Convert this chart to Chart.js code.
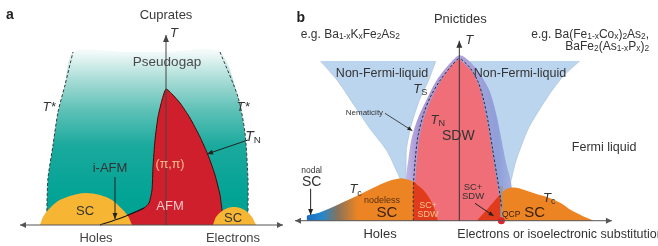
<!DOCTYPE html>
<html><head><meta charset="utf-8">
<script src="https://cdn.jsdelivr.net/npm/chart.js@4.4.1/dist/chart.umd.min.js"></script>
<style>
html,body{margin:0;padding:0;background:#fff;width:658px;height:246px;overflow:hidden}
#ca{position:absolute;left:0;top:0}
#cb{position:absolute;left:290px;top:0}
</style></head><body>
<canvas id="ca" width="290" height="246"></canvas>
<canvas id="cb" width="368" height="246"></canvas>
<script>
// ===== Panel a: cuprates (x = doping, 0 at T axis; y = temperature) =====
const pseudogapRegion = [[-120,0],[-119,23],[-118,47],[-113,80],[-108,113],[-101,140],[-93,173],[-40,173],[0,173],[54,173],[72,128],[79,92],[82,45],[82,15],[82,0]];
const tStarLeft = [[-119,14],[-119,23],[-118,47],[-113,80],[-108,113],[-101,140],[-93,173]];
const tStarRight = [[54,173],[72,128],[79,92],[82,45],[82,12]];
const afmRegion = [[-66,0],[-45,7],[-33,12],[-22,17],[-17,22],[-14,35],[-13,58],[-11,85],[-8,108],[-4,125],[0,136],[6,131],[14,122],[24,107],[34,88],[42,70],[49,50],[54,30],[56,15],[58,0]];
const iAfmLine = [[-66,0],[-45,7],[-33,12],[-22,17]];
const scDomeHolesA = [[-126,0],[-123,8],[-117,16],[-108,24],[-96,29],[-81,32],[-66,30],[-54,25],[-45,17],[-38,9],[-34,0]];
const scDomeElectronsA = [[47,0],[50,8],[56,14],[62,17],[68,18],[74,17],[80,14],[86,8],[90,0]];

// ===== Panel b: pnictides =====
const nflHoles = [[-142,165],[-124,144],[-106,117],[-92,96],[-74,72],[-63,49],[-59,41],[-55,42],[-54,74],[-49,99],[-41,124],[-31,146],[-24,165]];
const nflElectrons = [[6,165],[19,149],[29,124],[36,99],[41,74],[45,49],[48,34],[50,34],[53,42],[58,62],[71,96],[91,129],[106,149],[123,165]];
const nematicRegion = [[-55,0],[-55,39],[-52,64],[-49,84],[-43,104],[-34,124],[-24,144],[-12,160],[0,171],[9,166],[21,152],[31,134],[38,109],[43,84],[48,59],[53,39],[56,0]];
const sdwDome = [[-46,0],[-46,24],[-44,54],[-41,84],[-35,109],[-27,129],[-16,149],[-7,161],[0,167],[3,164],[13,154],[21,136],[26,114],[30,94],[33,74],[37,49],[41,24],[43,0]];
const tsLeft = [[-47,0],[-47,34],[-45,64],[-42,89],[-36,112],[-29,129],[-19,146],[-9,159],[0,169]];
const tsRight = [[2,167],[11,158],[19,144],[25,124],[30,99],[34,74],[38,49],[42,24],[43,14]];
const scDomeHolesB = [[-156,0],[-156,5],[-144,8],[-134,12],[-119,19],[-102,27],[-84,36],[-69,42],[-59,44],[-51,42],[-44,38],[-37,32],[-31,24],[-27,16],[-24,8],[-22,0]];
const scSdwHoles = [[-47,0],[-47,41],[-44,38],[-37,32],[-31,24],[-27,16],[-24,8],[-22,0]];
const scSdwElectrons = [[18,0],[26,9],[33,17],[39,24],[43,27],[43,0]];
const scDomeElectronsB = [[43,0],[43,28],[47,32],[52,34],[58,34],[66,32],[78,28],[91,24],[104,18],[114,11],[126,5],[138,0]];
const qcpLine = [[43,0],[43,36]];
const qcpPoint = [[43,0]];

const FA = '"Liberation Sans", Arial, sans-serif';

function pts(a){ return a.map(p => ({x:p[0], y:p[1]})); }
function ds(points, o){
  return Object.assign({type:'line', data:pts(points), pointRadius:0, borderWidth:0, borderColor:'rgba(0,0,0,0)', fill:false, tension:0.3}, o);
}

function drawRich(ctx, parts, x, y, size, color, align, family){
  if (typeof parts === 'string') parts = [[parts,'']];
  const fonts = parts.map(p => {
    const st = p[1] || '';
    const s = st.includes('S') ? size*0.7 : size;
    return (st.includes('I')?'italic ':'') + (st.includes('B')?'bold ':'') + s + 'px ' + family;
  });
  const widths = parts.map((p,i) => { ctx.font = fonts[i]; return ctx.measureText(p[0]).width; });
  const w = widths.reduce((a,b)=>a+b,0);
  let sx = align==='center' ? x - w/2 : (align==='right' ? x - w : x);
  ctx.fillStyle = color; ctx.textBaseline = 'middle'; ctx.textAlign = 'left';
  parts.forEach((p,i) => {
    ctx.font = fonts[i];
    const st = p[1]||'';
    const off = st.includes('S') ? size*(st.includes('L') ? 0.25 : 0.14) : 0;
    ctx.fillText(p[0], sx, y + off);
    sx += widths[i];
  });
}
function head(ctx, x1,y1,x2,y2, len, half){
  const a = Math.atan2(y2-y1, x2-x1);
  ctx.beginPath();
  ctx.moveTo(x2,y2);
  ctx.lineTo(x2 - len*Math.cos(a) + half*Math.sin(a), y2 - len*Math.sin(a) - half*Math.cos(a));
  ctx.lineTo(x2 - len*Math.cos(a) - half*Math.sin(a), y2 - len*Math.sin(a) + half*Math.cos(a));
  ctx.closePath(); ctx.fill();
}
function overlay(labels, arrows){
  return {id:'overlay', afterDatasetsDraw(chart){
    const ctx = chart.ctx, X = chart.scales.x, Y = chart.scales.y;
    const px = v => X.getPixelForValue(v), py = v => Y.getPixelForValue(v);
    ctx.save();
    arrows.forEach(a => {
      const x1=px(a.f[0]), y1=py(a.f[1]), x2=px(a.t[0]), y2=py(a.t[1]);
      ctx.strokeStyle = a.c; ctx.fillStyle = a.c; ctx.lineWidth = a.w;
      ctx.beginPath(); ctx.moveTo(x1,y1); ctx.lineTo(x2,y2); ctx.stroke();
      head(ctx, x1,y1,x2,y2, a.hl, a.hw);
      if (a.both) head(ctx, x2,y2,x1,y1, a.hl, a.hw);
    });
    labels.forEach(l => drawRich(ctx, l.t, px(l.x), py(l.y), l.s, l.c, l.a || 'center', l.f || FA));
    ctx.restore();
  }};
}
function baseOptions(xmin,xmax,ymin,ymax){
  return {responsive:false, animation:false, events:[], layout:{padding:0},
    plugins:{legend:{display:false}, tooltip:{enabled:false}},
    scales:{x:{type:'linear', min:xmin, max:xmax, display:false}, y:{type:'linear', min:ymin, max:ymax, display:false}}};
}

// ---------- Panel a ----------
const labelsA = [
  {x:-156,y:210,t:[['a','B']],s:14,c:'#222'},
  {x:0,y:210,t:'Cuprates',s:13,c:'#3a3a3a'},
  {x:8,y:192,t:[['T','I']],s:13,c:'#333'},
  {x:1,y:163,t:'Pseudogap',s:13.5,c:'#4a4a4a'},
  {x:-117,y:118,t:[['T*','I']],s:13,c:'#333'},
  {x:77,y:118,t:[['T*','I']],s:13,c:'#333'},
  {x:87,y:88,t:[['T','I'],['N','SL']],s:14,c:'#333'},
  {x:4,y:60,t:'(π,π)',s:12.5,c:'#f5c38e'},
  {x:4,y:19,t:'AFM',s:13,c:'#f6c6c6'},
  {x:-56,y:57,t:'i-AFM',s:13,c:'#333'},
  {x:-81,y:14,t:'SC',s:13,c:'#333'},
  {x:67,y:7,t:'SC',s:13,c:'#333'},
  {x:-70,y:-13,t:'Holes',s:13,c:'#444'},
  {x:67,y:-13,t:'Electrons',s:13,c:'#444'}
];
const arrowsA = [
  {f:[-146,0],t:[117,0],c:'#555',w:1,hl:6,hw:3,both:true},
  {f:[0,0],t:[0,190],c:'#444',w:1,hl:7,hw:3},
  {f:[-51,48],t:[-51,6],c:'#222',w:1,hl:6,hw:2.5},
  {f:[82,85],t:[41,71],c:'#222',w:1,hl:6,hw:2.5}
];
new Chart(document.getElementById('ca'), {
  data:{datasets:[
    ds(pseudogapRegion,{order:10, fill:'origin', tension:0.25, backgroundColor:(c)=>{
      const ch=c.chart; if(!ch.chartArea) return '#3bb5aa';
      const y=ch.scales.y; const g=ch.ctx.createLinearGradient(0,y.getPixelForValue(173),0,y.getPixelForValue(28));
      g.addColorStop(0,'#f2faf9'); g.addColorStop(0.2,'#a5dbd5'); g.addColorStop(0.4,'#5ec1b7'); g.addColorStop(0.65,'#1aa99d'); g.addColorStop(1,'#02a395'); return g;}}),
    ds(tStarLeft,{order:9, borderColor:'#3a3a3a', borderWidth:1, borderDash:[3,2], tension:0.25}),
    ds(tStarRight,{order:9, borderColor:'#3a3a3a', borderWidth:1, borderDash:[3,2], tension:0.25}),
    ds(afmRegion,{order:8, fill:'origin', tension:0.2, backgroundColor:'#cf1f2d', borderColor:'#3a0d0d', borderWidth:1}),
    ds(scDomeHolesA,{order:7, fill:'origin', backgroundColor:'#f6b532'}),
    ds(scDomeElectronsA,{order:7, fill:'origin', backgroundColor:'#f6b532'}),
    ds(iAfmLine,{order:6, borderColor:'#1a1a1a', borderWidth:1.2, tension:0.2})
  ]},
  options: baseOptions(-166,124,-21,225),
  plugins:[overlay(labelsA, arrowsA)]
});

// ---------- Panel b ----------
const labelsB = [
  {x:-162,y:209,t:[['b','B']],s:14,c:'#222'},
  {x:1,y:208,t:'Pnictides',s:13,c:'#333'},
  {x:-162,y:192,t:[['e.g. Ba',''],['1-x','S'],['K',''],['x','S'],['Fe',''],['2','S'],['As',''],['2','S']],s:12,c:'#333',a:'left'},
  {x:194,y:192,t:[['e.g. Ba(Fe',''],['1-x','S'],['Co',''],['x','S'],[')',''],['2','S'],['As',''],['2','S'],[',','']],s:12,c:'#333',a:'right'},
  {x:194,y:180,t:[['BaFe',''],['2','S'],['(As',''],['1-x','S'],['P',''],['x','S'],[')',''],['2','S']],s:12,c:'#333',a:'right'},
  {x:10,y:186,t:[['T','I']],s:13,c:'#333'},
  {x:-79,y:152,t:'Non-Fermi-liquid',s:12.5,c:'#333'},
  {x:62,y:152,t:'Non-Fermi-liquid',s:12.5,c:'#333'},
  {x:-40,y:136,t:[['T','I'],['S','SL']],s:13,c:'#333'},
  {x:-22,y:104,t:[['T','I'],['N','SL']],s:13,c:'#333'},
  {x:-1,y:87,t:'SDW',s:14,c:'#333'},
  {x:-97,y:112,t:'Nematicity',s:8,c:'#333'},
  {x:148,y:76,t:'Fermi liquid',s:12.5,c:'#333'},
  {x:-151,y:52,t:'nodal',s:8.5,c:'#333'},
  {x:-151,y:40,t:'SC',s:14,c:'#333'},
  {x:-106,y:32,t:[['T','I'],['c','SL']],s:13,c:'#333'},
  {x:-79,y:21,t:'nodeless',s:9,c:'#5a3010'},
  {x:-74,y:8,t:'SC',s:15,c:'#3a2010'},
  {x:-32,y:16,t:'SC+',s:9,c:'#f8c392'},
  {x:-32,y:6,t:'SDW',s:9,c:'#f8c392'},
  {x:14,y:34,t:'SC+',s:9.5,c:'#333'},
  {x:14,y:25,t:'SDW',s:9.5,c:'#333'},
  {x:53,y:6,t:'QCP',s:8.5,c:'#3a2010'},
  {x:77,y:8,t:'SC',s:15,c:'#3a2010'},
  {x:92,y:23,t:[['T','I'],['c','SL']],s:13,c:'#333'},
  {x:-81,y:-14,t:'Holes',s:13,c:'#333'},
  {x:-2,y:-14,t:'Electrons or isoelectronic substitution',s:12.5,c:'#333',a:'left'}
];
const arrowsB = [
  {f:[-168,0],t:[156,0],c:'#555',w:1,hl:6,hw:3,both:true},
  {f:[0,0],t:[0,186],c:'#333',w:1,hl:7,hw:3},
  {f:[-152,33],t:[-152,6],c:'#222',w:1,hl:6,hw:2.5},
  {f:[-76,111],t:[-48,93],c:'#222',w:0.8,hl:5,hw:2},
  {f:[16,18],t:[35,5],c:'#222',w:1,hl:5,hw:2.2}
];
new Chart(document.getElementById('cb'), {
  data:{datasets:[
    ds(nflHoles,{order:12, fill:{value:165}, tension:0.25, backgroundColor:'#bcd5ef', borderColor:'rgba(150,170,195,0.6)', borderWidth:0.7}),
    ds(nflElectrons,{order:12, fill:{value:165}, tension:0.25, backgroundColor:'#bcd5ef', borderColor:'rgba(150,170,195,0.6)', borderWidth:0.7}),
    ds(nematicRegion,{order:11, fill:'origin', tension:0.3, backgroundColor:(c)=>{
      const ch=c.chart; if(!ch.chartArea) return '#b0a4dd';
      const x=ch.scales.x; const g=ch.ctx.createLinearGradient(x.getPixelForValue(-55),0,x.getPixelForValue(56),0);
      g.addColorStop(0,'#c2b8e6'); g.addColorStop(0.12,'#a596d6'); g.addColorStop(0.5,'#b0a2dc'); g.addColorStop(0.85,'#8f9fd9'); g.addColorStop(1,'#a6b3e2'); return g;}}),
    ds(sdwDome,{order:10, fill:'origin', tension:0.3, backgroundColor:'#ef6e77'}),
    ds(scDomeHolesB,{order:8, fill:'origin', tension:0.3, backgroundColor:(c)=>{
      const ch=c.chart; if(!ch.chartArea) return '#ec8423';
      const x=ch.scales.x; const g=ch.ctx.createLinearGradient(x.getPixelForValue(-156),0,x.getPixelForValue(-104),0);
      g.addColorStop(0,'#1a6dc0'); g.addColorStop(0.3,'#2388cc'); g.addColorStop(0.62,'#8c7258'); g.addColorStop(1,'#ec8423'); return g;}}),
    ds(scSdwHoles,{order:7, fill:'origin', tension:0.3, backgroundColor:'#e03b1d'}),
    ds(scSdwElectrons,{order:7, fill:'origin', tension:0.3, backgroundColor:'#e03b1d'}),
    ds(scDomeElectronsB,{order:7, fill:'origin', tension:0.3, backgroundColor:'#ec8423'}),
    ds(qcpLine,{order:4, borderColor:'rgba(150,150,150,0.85)', borderWidth:2.5, tension:0}),
    ds(tsLeft,{order:3, borderColor:'#2a2a2a', borderWidth:1, borderDash:[2.5,2]}),
    ds(tsRight,{order:3, borderColor:'#2a2a2a', borderWidth:1, borderDash:[2.5,2]}),
    {type:'scatter', order:1, data:pts(qcpPoint), pointRadius:3.5, pointBackgroundColor:'#e2232a', pointBorderWidth:0}
  ]},
  options: baseOptions(-169,199,-22,224),
  plugins:[overlay(labelsB, arrowsB)]
});
</script>
</body></html>
